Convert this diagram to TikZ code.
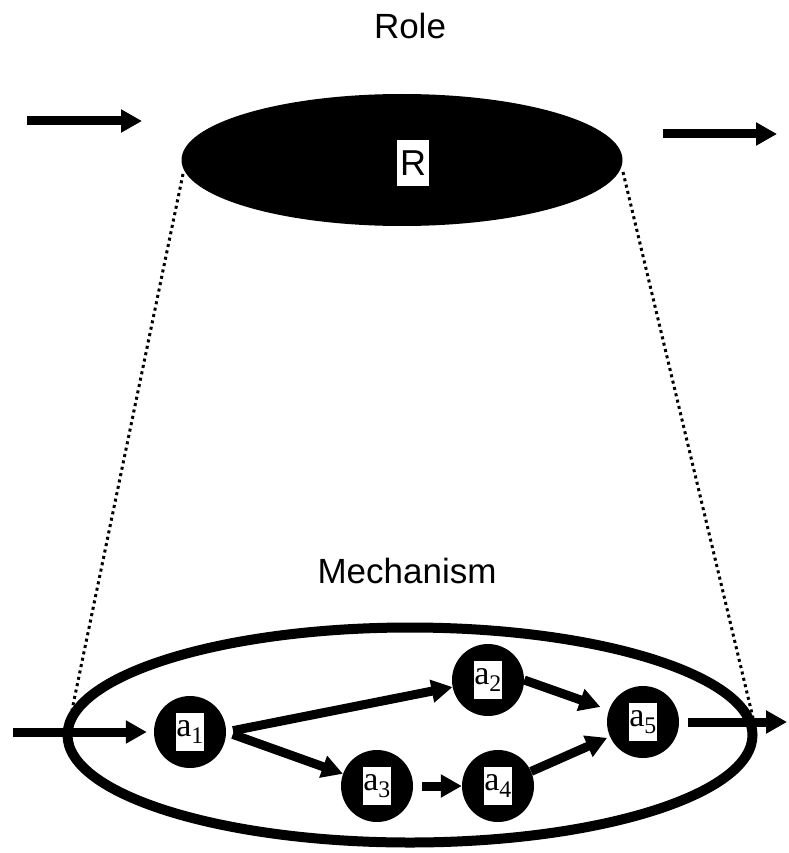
\documentclass[tikz,border=0pt]{standalone}
\usepackage{fontspec}
\usepackage{tikz}
\usetikzlibrary{arrows.meta,shapes.geometric}
\newfontfamily\rolefont{Liberation Sans}
\newfontfamily\actfont{Liberation Serif}
\tikzset{actnode/.style={circle,fill=black,minimum size=72pt,inner sep=0pt}}
\tikzset{acttag/.style={fill=white,inner sep=0pt,minimum width=28pt,minimum height=38pt,
    font=\actfont\fontsize{34}{34}\selectfont}}
\tikzset{flow/.style={-{Triangle[length=21pt,width=22pt]},line width=9pt}}
\tikzset{guide/.style={line width=3pt,dash pattern=on 3pt off 3.5pt}}

\begin{document}
\begin{tikzpicture}[x=1pt,y=-1pt]
    \useasboundingbox (0,0) rectangle (788,853);

    % role level
    \node[anchor=base,font=\rolefont\fontsize{35}{40}\selectfont] (roletitle) at (410,39) {Role};
    \node[ellipse,fill=black,minimum width=441pt,minimum height=132pt,inner sep=0pt] (role) at (402,160) {};
    \node[fill=white,inner sep=0pt,minimum width=32pt,minimum height=46pt,
      font=\rolefont\fontsize{36}{36}\selectfont] (rtag) at (413,163) {R};

    \coordinate (inR) at (27,121);
    \coordinate (inRtip) at (142,121);
    \coordinate (outR) at (663,134);
    \coordinate (outRtip) at (777,134);
    \draw[flow] (inR) -- (inRtip);
    \draw[flow] (outR) -- (outRtip);

    % mechanism level
    \node[anchor=base,font=\rolefont\fontsize{35}{40}\selectfont] (mechtitle) at (407,583) {Mechanism};
    \node[ellipse,draw,line width=10pt,minimum width=685pt,minimum height=215pt,inner sep=0pt] (mech) at (410,735) {};

    \coordinate (topL) at (183,174);
    \coordinate (botL) at (72,710);
    \coordinate (topR) at (623,172);
    \coordinate (botR) at (753,718);
    \draw[guide] (topL) -- (botL);
    \draw[guide] (topR) -- (botR);

    \node[actnode,label={[acttag]center:a\textsubscript{1}}] (a1) at (190,732) {};
    \node[actnode,label={[acttag]center:a\textsubscript{2}}] (a2) at (488,680) {};
    \node[actnode,label={[acttag]center:a\textsubscript{3}}] (a3) at (377,786) {};
    \node[actnode,label={[acttag]center:a\textsubscript{4}}] (a4) at (498,786) {};
    \node[actnode,label={[acttag]center:a\textsubscript{5}}] (a5) at (643,722) {};

    \coordinate (inM) at (13,732);
    \coordinate (outM) at (787,722);

    \draw[flow,shorten >=7pt] (inM) -- (a1);
    \draw[flow,shorten <=7pt] (a1.east) -- (a2);
    \draw[flow,shorten <=7pt] (a1.east) -- (a3);
    \draw[flow,shorten >=9pt] (a2.east) -- (a5);
    \draw[flow,shorten <=9pt] (a3) -- (a4);
    \draw[flow,shorten >=3pt] (a4) -- (a5);
    \draw[flow,shorten <=9pt] (a5) -- (outM);
\end{tikzpicture}
\end{document}
